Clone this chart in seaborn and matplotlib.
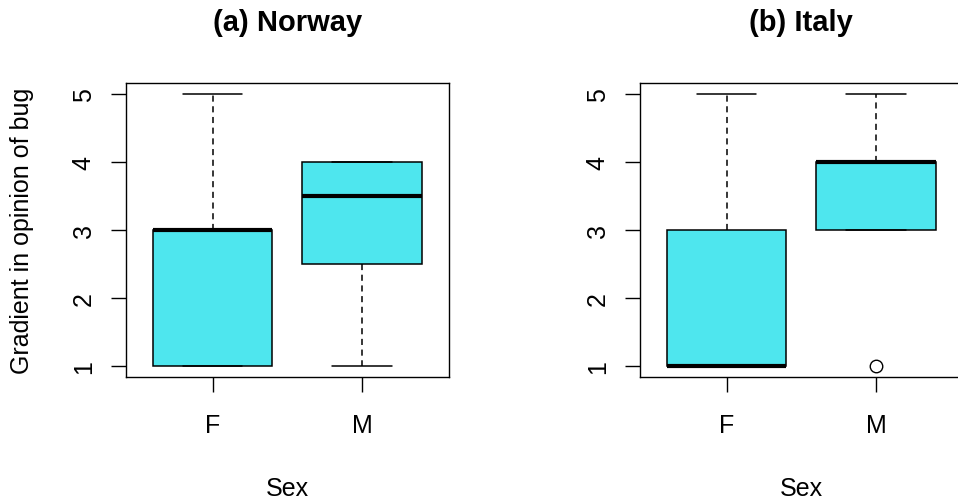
import pandas as pd
import matplotlib
matplotlib.use("Agg")
import matplotlib.pyplot as plt
import seaborn as sns

# Survey ratings (1-5) per respondent, by country and sex
norway_f = [1, 1, 1, 2, 3, 3, 3, 4, 5]
norway_m = [1, 1, 3, 3, 4, 4, 4, 4]
italy_f = [1, 1, 1, 1, 1, 2, 3, 4, 5]
italy_m = [1, 3, 3, 4, 4, 4, 4, 4, 5]

sexes = ["F", "M"]
titles = ["(a) Norway", "(b) Italy"]
y_ticks = [1, 2, 3, 4, 5]
box_color = "#4EE6EE"

def make_df(f_vals, m_vals):
    return pd.DataFrame({
        "Sex": ["F"] * len(f_vals) + ["M"] * len(m_vals),
        "rating": f_vals + m_vals,
    })

frames = [make_df(norway_f, norway_m), make_df(italy_f, italy_m)]

sns.set_style("white", {"text.color": "black", "axes.labelcolor": "black",
                        "xtick.color": "black", "ytick.color": "black"})
plt.rcParams["font.family"] = ["Liberation Sans", "DejaVu Sans"]

fig = plt.figure(figsize=(9.58, 5.02), dpi=100)
ax_pos = [[0.1315, 0.247, 0.3367, 0.5857],
          [0.668, 0.247, 0.3367, 0.5857]]

for i, df in enumerate(frames):
    ax = fig.add_axes(ax_pos[i])
    sns.boxplot(data=df, x="Sex", y="rating", order=sexes, ax=ax,
                color=box_color, saturation=1, width=0.8,
                linecolor="black", linewidth=1.1,
                whiskerprops=dict(linestyle=(0, (4, 3))),
                medianprops=dict(linewidth=3),
                flierprops=dict(marker="o", markersize=9,
                                markerfacecolor="none",
                                markeredgecolor="black"))
    ax.set_xlim(-0.58, 1.58)
    ax.set_ylim(0.84, 5.16)
    ax.set_yticks(y_ticks)
    ax.set_yticklabels([str(t) for t in y_ticks], rotation=90,
                       va="center")
    for s in ax.spines.values():
        s.set_visible(True)
        s.set_color("black")
        s.set_linewidth(1)
    ax.tick_params(axis="both", direction="out", length=10.8, width=1,
                   color="black", labelcolor="black", labelsize=18)
    ax.tick_params(axis="y", pad=11, left=True)
    ax.tick_params(axis="x", pad=15, bottom=True)
    ax.set_title(titles[i], fontsize=21, fontweight="bold", pad=38,
                 color="black")
    ax.set_xlabel("Sex", fontsize=18, color="black")
    ax.xaxis.set_label_coords(0.5, -0.335)
    if i == 0:
        ax.set_ylabel("Gradient in opinion of bug", fontsize=18,
                      color="black")
        ax.yaxis.set_label_coords(-0.285, 0.5)
    else:
        ax.set_ylabel("")

fig.savefig("out.png", dpi=100)
